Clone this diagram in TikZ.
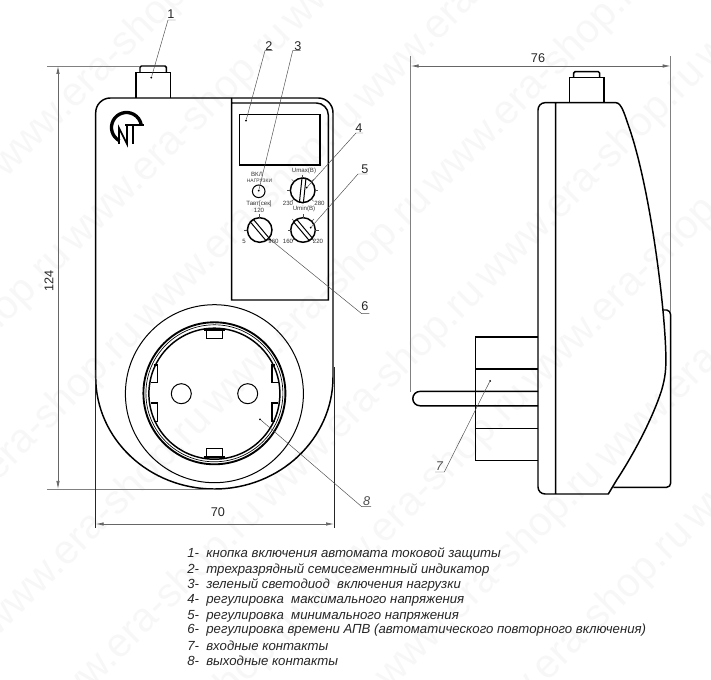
\documentclass[tikz,border=0pt]{standalone}
\usepackage{fontspec}
\setmainfont{Liberation Sans}
\usetikzlibrary{arrows.meta}
\tikzset{
  body/.style={line width=1.1pt,black},
  thinpart/.style={line width=0.75pt,black},
  dimline/.style={line width=0.55pt,black!50},
  darkdim/.style={line width=0.5pt,black!85},
  dimarrow/.style={line width=0.55pt,black!60,<->,>={Latex[length=6pt,width=2.6pt]}},
  leader/.style={line width=0.35pt,black!70},
  tipdot/.style={fill=black,inner sep=0pt,minimum size=1.5pt,circle},
  lbl/.style={font=\fontsize{9.5}{10}\selectfont,inner sep=0pt,black!85},
  lblit/.style={font=\itshape\fontsize{9.5}{10}\selectfont,inner sep=0pt,black!70},
  tinylbl/.style={font=\fontsize{4.6}{5}\selectfont,inner sep=0pt,black!80},
  listline/.style={font=\itshape\fontsize{9.9}{11}\selectfont,inner sep=0pt,anchor=west,black!85},
  wmark/.style={font=\fontsize{30.5}{32}\selectfont,black!3,rotate=45,inner sep=0pt,anchor=west},
}
\begin{document}
\begin{tikzpicture}[x=0.75pt,y=-0.75pt]
  \useasboundingbox (0,0) rectangle (711,680);
  % watermark
  \foreach \ws/\wo in {170/-173,315/-177,465/-183,620/-200,766/-240,915/-298,1066/-301,1215/-273}
    \foreach \wk in {-2,...,2}
    {
      \pgfmathsetmacro{\wx}{(\ws+\wo+440*\wk)/2}
      \pgfmathsetmacro{\wy}{(\ws-\wo-440*\wk)/2}
      % only the ones that reach the page
      \pgfmathtruncatemacro{\won}{and(and(\wx+220>0,\wx<711),and(\wy>0,\wy-220<680))}
      \ifnum\won=1
        \node[wmark] (wm\ws x\wk) at (\wx,\wy) {www.era-shop.ru};
      \fi
    }

  % front view, case
  \draw[body,rounded corners=11pt] (95.7,377) -- (95.7,98) -- (333,98) -- (333,377);
  \draw[body] (333,377) arc[start angle=0,end angle=180,x radius=118.65,y radius=112];
  % button
  \draw[body] (136,98) -- (136,72.7) -- (170.3,72.7) -- (170.3,98);
  \draw[body,rounded corners=1pt] (140,72.7) -- (140,66) -- (166.3,66) -- (166.3,72.7);
  % panel
  \draw[body] (231.7,98) -- (231.7,300) -- (328.3,300) -- (328.3,115) arc[start angle=0,end angle=-90,radius=12] -- (231.7,103);
  \draw[body] (239.7,114.3) rectangle (320,165);

  % logo
  \draw[line width=2.5pt] (126.5,127.5) ++(118:15) arc[start angle=118,end angle=350,radius=15];
  \draw[line width=1.5pt] (125,125) -- (143.5,125);
  \draw[line width=1.6pt] (132.7,125) -- (132.7,144);
  \draw[line width=1.3pt] (119,144) -- (119,128) -- (127,144) -- (127,126);

  % led and knobs
  \draw[thinpart] (258.7,191.3) circle (6.3);
  \foreach \kx/\ky/\kang in {302.7/190.3/-6,303/230/40,259.7/230/40}
    \draw[thinpart,rotate around={\kang:(\kx,\ky)}] (\kx-2,\ky-12.3) rectangle (\kx+2,\ky+12.3);
  \foreach \kx/\ky in {302.7/190.3,303/230,259.7/230}
    \draw[body] (\kx,\ky) circle (12.3);
  \foreach \kx/\ky in {302.7/190.3,303/230}
    \foreach \a in {135,180,225,270,315,360,405}
      \draw[leader] (\kx,\ky) ++(\a:12.3) -- ++(\a:3.2);
  \foreach \a in {180,270,45}
    \draw[leader] (259.7,230) ++(\a:12.3) -- ++(\a:3.2);

  % panel labels
  \node[tinylbl] (vkl) at (257,174.5) {ВКЛ};
  \node[tinylbl,font=\fontsize{3.7}{4}\selectfont] (nagr) at (259.5,181) {НАГРУЗКИ};
  \node[tinylbl] (umax) at (304,171) {Umax(В)};
  \node[tinylbl] (v230) at (288,203) {230};
  \node[tinylbl] (v280) at (319.5,203) {280};
  \node[tinylbl] (taut) at (259,203.5) {Тавт[сек]};
  \node[tinylbl] (t120) at (259,210.5) {120};
  \node[tinylbl] (umin) at (304,209) {Umin(В)};
  \node[tinylbl] (t5) at (244,241.5) {5};
  \node[tinylbl] (t960) at (273.5,241.5) {960};
  \node[tinylbl] (v160) at (288,241.5) {160};
  \node[tinylbl] (v220) at (318,241.5) {220};

  % socket
  \draw[thinpart] (214.4,393.7) circle (89);
  \draw[line width=1.4pt] (214.4,393.3) circle (71);
  \draw[line width=0.5pt] (214.4,393.3) circle (68.5);
  \draw[body] (214.4,393.7) circle (65.5);
  \draw[thinpart] (181.3,393.7) circle (10);
  \draw[thinpart] (247.7,393.7) circle (10);
  % socket clips
  \draw[thinpart] (206.7,330) -- (206.7,339) -- (222.3,339) -- (222.3,330);
  \draw[body] (203.5,330) -- (225,330);
  \draw[thinpart] (206.7,457) -- (206.7,449) -- (222.3,449) -- (222.3,457);
  \draw[body] (203.5,457) -- (225,457);
  \draw[body] (153.5,365) -- (157.3,365) -- (157.3,382.7) -- (151,382.7);
  \draw[body] (151,403) -- (157.3,403) -- (157.3,421.7) -- (153.5,421.7);
  \draw[body] (275,365) -- (272,365) -- (272,382.7) -- (278,382.7);
  \draw[body] (278,403) -- (272,403) -- (272,421.7) -- (275,421.7);

  % side view
  \draw[body] (555.7,102.7) -- (545,102.7) to[out=180,in=90] (538,110) -- (538,487) to[out=270,in=180] (545,494) -- (608.3,494)
    -- (616.7,480) .. controls (633,455) and (652,420) .. (661.7,390)
    .. controls (665,378) and (666.5,370) .. (665.7,350)
    .. controls (664,300) and (650,190) .. (630,130)
    .. controls (625,116) and (622,103) .. (616,102.7) -- (555.7,102.7) -- (555.7,494);
  \draw[body] (662.3,310) -- (666.7,310) to[out=0,in=90] (670.7,315) -- (670.7,483) to[out=270,in=0] (666.7,487.3) -- (613.3,487.3);
  \draw[body] (569.3,102.7) -- (569.3,77.7) -- (604,77.7) -- (604,102.7);
  \draw[body,rounded corners=1pt] (573.7,77.7) -- (573.7,71.7) -- (599.7,71.7) -- (599.7,77.7);
  % plug
  \draw[body] (538,337) -- (475.3,337) -- (475.3,460.7) -- (538,460.7);
  \draw[body] (475.3,369) -- (538,369);
  \draw[body] (475.3,428.3) -- (538,428.3);
  \draw[body] (538,391.4) -- (420,391.4) arc[start angle=270,end angle=90,radius=7.2] -- (538,405.8);

  % dimensions
  \coordinate (h1) at (47,66);
  \coordinate (h2) at (140,66);
  \coordinate (h3) at (47,489);
  \coordinate (h4) at (214,489);
  \draw[dimline] (h1) -- (h2);
  \draw[dimline] (h3) -- (h4);
  \coordinate (d1) at (58,66);
  \coordinate (d2) at (58,489);
  \draw[dimarrow] (d1) -- (d2);
  \node[lbl,rotate=90] (d124) at (49,281) {124};

  \coordinate (b1) at (95.7,370);
  \coordinate (b2) at (95.7,528);
  \coordinate (b3) at (334,367);
  \coordinate (b4) at (334,528);
  \draw[darkdim] (b1) -- (b2);
  \draw[darkdim] (b3) -- (b4);
  \coordinate (d3) at (95.7,524);
  \coordinate (d4) at (334,524);
  \draw[dimarrow] (d3) -- (d4);
  \node[lbl] (d70) at (218,512) {70};

  \coordinate (s1) at (410.7,56);
  \coordinate (s2) at (410.7,392);
  \coordinate (s3) at (670.7,56);
  \coordinate (s4) at (670.7,312);
  \draw[dimline] (s1) -- (s2);
  \draw[dimline] (s3) -- (s4);
  \coordinate (d5) at (410.7,66);
  \coordinate (d6) at (670.7,66);
  \draw[dimarrow] (d5) -- (d6);
  \node[lbl] (d76) at (538,58) {76};

  % callouts
  \foreach \n/\nx/\ny/\ua/\ub/\uy/\tx/\ty in {
      1/171/14/168/175.7/20/151.3/77.7,
      2/269/46/265/272.7/50.7/246/120.7,
      3/298/46/292.7/300.7/50.7/258.7/190.7,
      4/359/128/356/363/133/306.7/187.7,
      5/365/169/358/367.7/174/310.7/227.7,
      6/365/306/361.7/369.3/313.7/270/239.3}
  {
    \node[lbl] (num\n) at (\nx,\ny) {\n};
    \coordinate (ua\n) at (\ua,\uy);
    \coordinate (ub\n) at (\ub,\uy);
    \node[tipdot] (tip\n) at (\tx,\ty) {};
    \draw[leader] (tip\n) -- (ua\n) -- (ub\n);
  }
  \node[lblit] (num7) at (439.3,465.7) {7};
  \coordinate (ua7) at (435,472);
  \coordinate (ub7) at (444.3,472);
  \node[tipdot] (tip7) at (490,381) {};
  \draw[leader] (tip7) -- (ub7) -- (ua7);
  \node[lblit] (num8) at (366.7,501) {8};
  \coordinate (ua8) at (361.7,506.7);
  \coordinate (ub8) at (371,506.7);
  \node[tipdot] (tip8) at (260,419.3) {};
  \draw[leader] (tip8) -- (ua8) -- (ub8);

  % legend
  \node[listline] (item1) at (187,554.3) {1-\ \ кнопка включения автомата токовой защиты};
  \node[listline] (item2) at (187,569.7) {2-\ \ трехразрядный семисегментный индикатор};
  \node[listline] (item3) at (187,585) {3-\ \ зеленый светодиод\ \ включения нагрузки};
  \node[listline] (item4) at (187,600) {4-\ \ регулировка\ \ максимального напряжения};
  \node[listline] (item5) at (187,616) {5-\ \ регулировка\ \ минимального напряжения};
  \node[listline] (item6) at (187,630.5) {6-\ \ регулировка времени АПВ (автоматического повторного включения)};
  \node[listline] (item7) at (187,645.7) {7-\ \ входные контакты};
  \node[listline] (item8) at (187,661) {8-\ \ выходные контакты};
\end{tikzpicture}
\end{document}
